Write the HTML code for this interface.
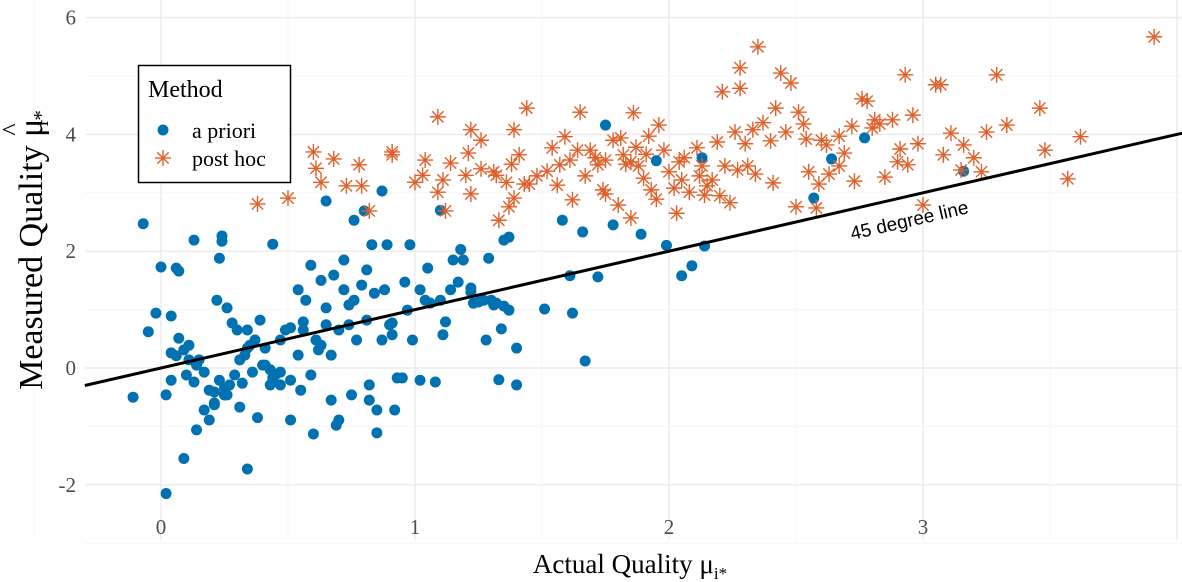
<!DOCTYPE html>
<html><head><meta charset="utf-8">
<style>
html,body{margin:0;padding:0;background:#fff;}
svg{display:block;}
.tick{font-family:"Liberation Serif",serif;font-size:21px;fill:#4d4d4d;}
.title{font-family:"Liberation Serif",serif;fill:#000;}
</style></head>
<body>
<svg id="chart" width="1182" height="582" viewBox="0 0 1182 582">
<g id="grid"></g>
<g id="marks"></g>
<g id="axes"></g>
<text class="title" style="font-size:27px" x="630" y="573" text-anchor="middle">Actual Quality μ<tspan style="font-size:17px" dy="6">i*</tspan></text>
<g transform="translate(42,250) rotate(-90)">
<text class="title" style="font-size:34px" x="0" y="0" text-anchor="middle">Measured Quality μ<tspan style="font-size:26px" dx="-17" dy="-22">^</tspan><tspan style="font-size:21px" dx="-3" dy="28">i*</tspan></text>
</g>
<g>
<rect x="138.5" y="65.5" width="152" height="117" fill="#fff" stroke="#000" stroke-width="1.5"/>
<text x="148" y="97" font-family="Liberation Serif,serif" font-size="24">Method</text>
<circle cx="163" cy="130" r="5.5" fill="#0072B2"/>
<text x="192" y="138" font-family="Liberation Serif,serif" font-size="22">a priori</text>
<g id="legstar"></g>
<text x="192" y="166" font-family="Liberation Serif,serif" font-size="22">post hoc</text>
</g>
</svg>
<script>
const xTicks=[0,1,2,3];
const yTicks=[-2,0,2,4,6];
const xTickLabels=["0","1","2","3"];
const yTickLabels=["-2","0","2","4","6"];
const aprioriX=[-0.07,0.00,0.06,0.07,-0.02,-0.05,-0.11,0.02,0.09,0.13,0.24,0.24,0.23,0.65,0.87,0.80,0.44,0.34,0.60,0.85,1.10,1.75,2.13,1.95,2.77,3.16,2.64,2.57,2.14,2.09,2.05,1.99,1.89,1.78,1.66,1.58,1.72,1.61,1.62,1.67,1.51,1.40,1.33,1.34,1.37,1.29,1.35,
0.04,0.09,0.11,0.10,0.13,0.17,0.15,0.19,0.21,0.14,0.17,0.23,0.25,0.27,0.29,0.31,0.33,0.35,0.34,0.37,0.39,0.41,0.43,0.43,0.45,0.47,0.49,0.51,0.51,0.54,0.55,0.56,0.57,0.59,0.59,0.61,0.62,0.63,0.63,0.65,0.65,0.67,0.67,0.68,0.69,0.70,0.70,0.72,0.72,0.74,0.74,0.76,0.77,0.79,0.81,0.82,0.82,0.83,0.84,0.85,0.87,0.88,0.89,0.90,0.91,0.91,0.92,0.93,0.95,0.96,0.97,0.98,0.99,1.02,1.04,1.05,1.06,1.08,1.10,1.11,1.12,1.14,1.15,1.18,1.19,1.17,1.22,1.22,1.23,1.25,1.27,1.28,1.30,1.31,1.32,1.35,1.37,1.40,1.02,0.75,0.76,0.81,0.41,0.56,0.54,0.51,0.34,0.30,0.26,0.28,0.22,0.19,0.26,0.21,0.38,0.40,0.25,0.31,0.47,0.47,0.44,0.36,0.32,0.07,0.06,0.04,0.21,0.25,0.14,0.11,0.04,0.02,0.00,0.06];
const aprioriY=[2.47,1.73,1.71,1.66,0.94,0.62,-0.50,-2.15,-1.55,2.19,2.26,2.17,1.88,2.86,3.03,2.69,2.12,-1.73,-1.13,-1.11,2.70,4.16,3.60,3.55,3.94,3.37,3.58,2.91,2.09,1.75,1.58,2.10,2.29,2.45,2.33,2.53,1.56,1.58,0.94,0.12,1.01,0.34,-0.20,0.67,2.24,1.88,2.19,
0.89,0.31,0.39,-0.12,-0.24,-0.07,0.14,-0.38,-0.60,-1.06,-0.72,-0.21,-0.46,-0.29,-0.12,0.14,0.22,0.39,0.65,0.48,0.82,0.34,-0.03,-0.29,-0.12,0.48,0.65,-0.21,-0.89,0.22,-0.38,0.65,1.16,1.76,-0.12,0.48,0.31,1.50,0.39,0.74,1.03,0.22,-0.55,1.59,-0.98,0.65,-0.89,1.34,1.85,1.08,0.74,1.16,0.48,1.42,1.68,-0.29,-0.55,2.11,1.28,-0.72,0.48,1.34,2.11,0.74,0.77,0.57,-0.72,-0.17,-0.17,1.47,0.99,2.11,0.48,1.34,1.16,1.71,1.11,-0.24,1.16,0.57,0.79,1.34,1.85,2.03,1.85,1.47,1.37,1.30,1.11,1.13,1.16,0.48,1.16,1.08,1.11,1.06,0.99,-0.29,-0.21,-0.46,2.53,0.82,0.05,0.79,1.34,0.69,0.34,0.65,1.03,0.77,1.16,-0.89,-0.46,-0.63,-0.85,0.05,-0.46,-0.67,-0.29,-0.07,-0.17,-0.07,-0.26,0.51,0.21,0.26,-0.41,-0.34,0.05,0.14,-0.21,-0.46];
const posthocX=[0.38,0.50,0.60,0.63,0.61,0.68,0.73,0.79,0.78,0.82,0.91,0.91,1.00,1.04,1.03,1.09,1.11,1.09,1.12,1.14,1.20,1.21,1.22,1.22,1.26,1.26,1.31,1.32,1.33,1.36,1.37,1.38,1.39,1.39,1.41,1.44,1.43,1.45,1.48,1.52,1.54,1.56,1.57,1.59,1.61,1.62,1.64,1.65,1.67,1.69,1.71,1.72,1.74,1.75,1.75,1.78,1.80,1.81,1.82,1.83,1.85,1.85,1.86,1.87,1.88,1.90,1.91,1.92,1.93,1.95,1.96,1.98,2.00,2.02,2.03,2.04,2.05,2.06,2.08,2.11,2.12,2.13,2.14,2.15,2.17,2.19,2.20,2.21,2.22,2.24,2.26,2.27,2.28,2.28,2.30,2.31,2.33,2.34,2.35,2.37,2.40,2.41,2.42,2.44,2.46,2.48,2.50,2.51,2.53,2.54,2.55,2.58,2.59,2.60,2.62,2.63,2.67,2.67,2.69,2.72,2.73,2.76,2.78,2.80,2.81,2.83,2.85,2.88,2.90,2.91,2.93,2.94,2.96,2.98,3.00,3.05,3.07,3.08,3.11,3.15,3.16,3.20,3.23,3.25,3.29,3.33,3.46,3.48,3.57,3.62,3.91];
const posthocY=[2.81,2.91,3.70,3.18,3.42,3.58,3.12,3.12,3.48,2.69,3.70,3.65,3.18,3.56,3.30,3.01,3.22,4.30,2.69,3.51,3.30,3.68,2.98,4.08,3.41,3.90,3.36,3.30,2.53,3.18,2.76,3.49,2.91,4.08,3.65,4.45,3.15,3.15,3.29,3.37,3.77,3.13,3.48,3.96,3.56,2.88,3.73,4.38,3.29,3.73,3.60,3.48,3.05,2.98,3.56,3.90,2.79,3.94,3.65,3.49,2.57,3.53,4.37,3.78,3.46,3.25,3.66,3.97,3.05,2.89,4.16,3.73,3.36,3.08,2.65,3.53,3.22,3.60,3.01,3.77,3.29,3.46,2.96,3.12,3.22,3.87,2.95,4.73,3.46,2.83,4.04,3.39,5.14,4.79,3.84,3.46,4.08,3.32,5.50,4.20,3.89,3.17,4.45,5.05,4.04,4.88,2.76,4.38,4.18,3.92,3.36,2.74,3.15,3.90,3.82,3.32,3.97,3.46,3.68,4.14,3.20,4.61,4.57,4.11,4.25,4.18,3.27,4.25,3.53,3.75,5.02,3.48,4.33,3.84,2.79,4.85,4.85,3.65,4.02,3.39,3.82,3.60,3.36,4.04,5.02,4.16,4.45,3.73,3.24,3.96,5.67];
const refLine=[-0.3,4.1];

const NS="http://www.w3.org/2000/svg";
const L=85,R=1182,T=0,B=540;
const sx=v=>161+v*254;
const sy=v=>368-v*58.4;
function mk(tag,attrs,parent){const e=document.createElementNS(NS,tag);for(const k in attrs)e.setAttribute(k,attrs[k]);parent.appendChild(e);return e;}
const grid=document.getElementById('grid'),marks=document.getElementById('marks'),axes=document.getElementById('axes');
for(let v=-0.5;v<=4.0;v+=0.5){const major=Number.isInteger(v);const l=mk('line',{x1:sx(v),x2:sx(v),y1:T,y2:B,stroke:major?'#ebebeb':'#f5f5f5','stroke-width':major?1.4:0.8},grid);

}
for(let v=-3;v<=6;v+=1){const major=v%2===0;const l=mk('line',{x1:L,x2:R,y1:sy(v),y2:sy(v),stroke:major?'#ebebeb':'#f5f5f5','stroke-width':major?1.4:0.8},grid);

}
xTicks.forEach((v,i)=>{const t=mk('text',{x:sx(v),y:534,'text-anchor':'middle',class:'tick'},axes);t.textContent=xTickLabels[i];

});
yTicks.forEach((v,i)=>{const t=mk('text',{x:76,y:sy(v)+7,'text-anchor':'end',class:'tick'},axes);t.textContent=yTickLabels[i];

});
const nA=Math.min(aprioriX.length,aprioriY.length);
for(let i=0;i<nA;i++){const c=mk('circle',{cx:sx(aprioriX[i]),cy:sy(aprioriY[i]),r:5.5,fill:'#0072B2'},marks);

}
function star(cx,cy,parent){const g=mk('g',{stroke:'#E0602A','stroke-width':1.4},parent);const r=8;
for(let k=0;k<4;k++){const a=k*Math.PI/4+Math.PI/2;mk('line',{x1:cx-r*Math.cos(a),y1:cy-r*Math.sin(a),x2:cx+r*Math.cos(a),y2:cy+r*Math.sin(a)},g);}
return g;}
const nP=Math.min(posthocX.length,posthocY.length);
for(let i=0;i<nP;i++){const g=star(sx(posthocX[i]),sy(posthocY[i]),marks);

}
star(163,158,document.getElementById('legstar'));
const ln=mk('line',{x1:sx(refLine[0]),y1:sy(refLine[0]),x2:sx(refLine[1]),y2:sy(refLine[1]),stroke:'#000','stroke-width':3},marks);


const ang=-Math.atan(58.4/254)*180/Math.PI;
const lab=mk('text',{x:0,y:0,transform:`translate(852,240) rotate(${ang})`,'font-family':'Liberation Sans,sans-serif','font-size':19,fill:'#000'},marks);
lab.textContent='45 degree line';


</script>
</body></html>
